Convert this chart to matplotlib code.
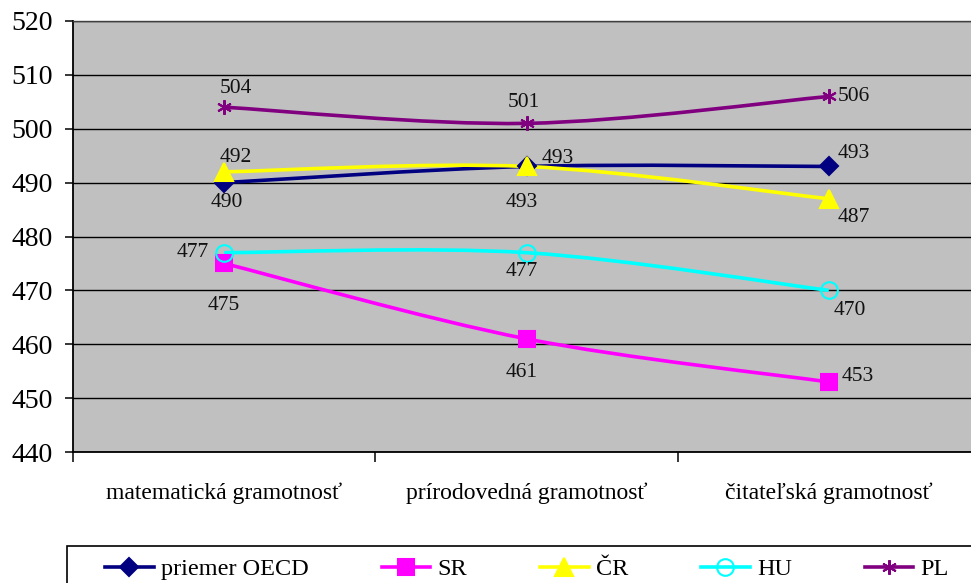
import matplotlib
matplotlib.use('Agg')
import matplotlib.pyplot as plt
from matplotlib.path import Path
from matplotlib.patches import PathPatch, Rectangle
from matplotlib.lines import Line2D

plt.rcParams['font.family'] = ['Liberation Serif', 'DejaVu Serif']

# data
categories = ['matematická gramotnosť', 'prírodovedná gramotnosť', 'čitateľská gramotnosť']
oecd = [490, 493, 493]
sr = [475, 461, 453]
cr = [492, 493, 487]
hu = [477, 477, 470]
pl = [504, 501, 506]

series_names = ['priemer OECD', 'SR', 'ČR', 'HU', 'PL']
series_vals = [oecd, sr, cr, hu, pl]

# styles: color, marker, markersize, filled
styles = [
    ('#000080', 'D', 9.2, True),
    ('#FF00FF', 's', 11.5, True),
    ('#FFFF00', '^', 13, True),
    ('#00FFFF', 'o', 12, False),
    ('#800080', (6, 2, 0), 10.5, True),
]

# label offsets in pixels (dx, dy, ha) per series per point
label_pos = [
    [(3, -20, 'center'), (15, 8, 'left'), (9, 13, 'left')],
    [(0, -42, 'center'), (-5, -34, 'center'), (13, 5, 'left')],
    [(12, 14, 'center'), (-5, -36, 'center'), (9, -19, 'left')],
    [(-15, 0, 'right'), (-5, -19, 'center'), (21, -20, 'center')],
    [(12, 19, 'center'), (-3, 21, 'center'), (9, 0, 'left')],
]


def smooth_path(xs, ys):
    # Excel-like smoothed line, cubic bezier through the points
    pts = list(zip(xs, ys))
    n = len(pts)
    verts = [pts[0]]
    codes = [Path.MOVETO]
    for i in range(n - 1):
        p0 = pts[i - 1] if i > 0 else pts[i]
        p1 = pts[i]
        p2 = pts[i + 1]
        p3 = pts[i + 2] if i + 2 < n else pts[i + 1]
        c1 = (p1[0] + (p2[0] - p0[0]) / 6.0, p1[1] + (p2[1] - p0[1]) / 6.0)
        c2 = (p2[0] - (p3[0] - p1[0]) / 6.0, p2[1] - (p3[1] - p1[1]) / 6.0)
        verts += [c1, c2, p2]
        codes += [Path.CURVE4] * 3
    return Path(verts, codes)


fig = plt.figure(figsize=(9.71, 5.83), dpi=100)
ax = fig.add_axes([73 / 971, 131 / 583, 907 / 971, 431 / 583])
ax.set_facecolor('#C0C0C0')

x = list(range(len(categories)))
handles = []
for name, vals, (col, mk, ms, filled), lp in zip(series_names, series_vals, styles, label_pos):
    ax.add_patch(PathPatch(smooth_path(x, vals), facecolor='none', edgecolor=col,
                           lw=2.6, zorder=3))
    fc = col if filled else 'none'
    ax.plot(x, vals, linestyle='none', marker=mk, markersize=ms, color=col,
            markerfacecolor=fc, markeredgecolor=col, markeredgewidth=1.5, zorder=4)
    for xi, v, (dx, dy, ha) in zip(x, vals, lp):
        ax.annotate(str(v), (xi, v), xytext=(dx, dy), textcoords='offset pixels',
                    ha=ha, va='center', fontsize=15.5, color='#111111', zorder=5)
    handles.append(Line2D([], [], color=col, lw=2.6, marker=mk, markersize=ms,
                          markerfacecolor=fc, markeredgecolor=col, markeredgewidth=1.5))

ax.set_xlim(-0.5, 2.5)
ax.set_ylim(440, 520)
ax.set_yticks(range(440, 521, 10))
ax.yaxis.grid(True, color='black', lw=1.0)
ax.set_axisbelow(True)

ax.set_xticks(x)
ax.set_xticklabels(categories, fontsize=17)
ax.set_xticks([-0.5, 0.5, 1.5, 2.5], minor=True)
ax.tick_params(axis='x', which='major', length=0, pad=22)
ax.tick_params(axis='x', which='minor', length=7, width=1.1, direction='out')
ax.tick_params(axis='y', length=5.8, width=1.1, direction='out', pad=8.6, labelsize=20)

for s in ['left', 'bottom']:
    ax.spines[s].set_color('black')
    ax.spines[s].set_linewidth(1.3)
ax.spines['top'].set_color('#404040')
ax.spines['top'].set_linewidth(1.0)
ax.spines['right'].set_visible(False)

# legend box
frame = Rectangle((67 / 971, -0.05), 1.0, (583 - 546) / 583 + 0.05, transform=fig.transFigure,
                  facecolor='white', edgecolor='black', lw=1.2, zorder=1)
fig.add_artist(frame)
leg = fig.legend(handles, series_names, loc='center left', ncol=5,
                 bbox_to_anchor=(105 / 971, 1 - 569 / 583), frameon=False,
                 prop={'family': ['Liberation Serif', 'DejaVu Serif'], 'size': 17.5},
                 handlelength=2.0, handletextpad=0.3,
                 columnspacing=3.0, borderpad=0, borderaxespad=0)
leg.set_zorder(2)

fig.savefig('out.png', dpi=100)
